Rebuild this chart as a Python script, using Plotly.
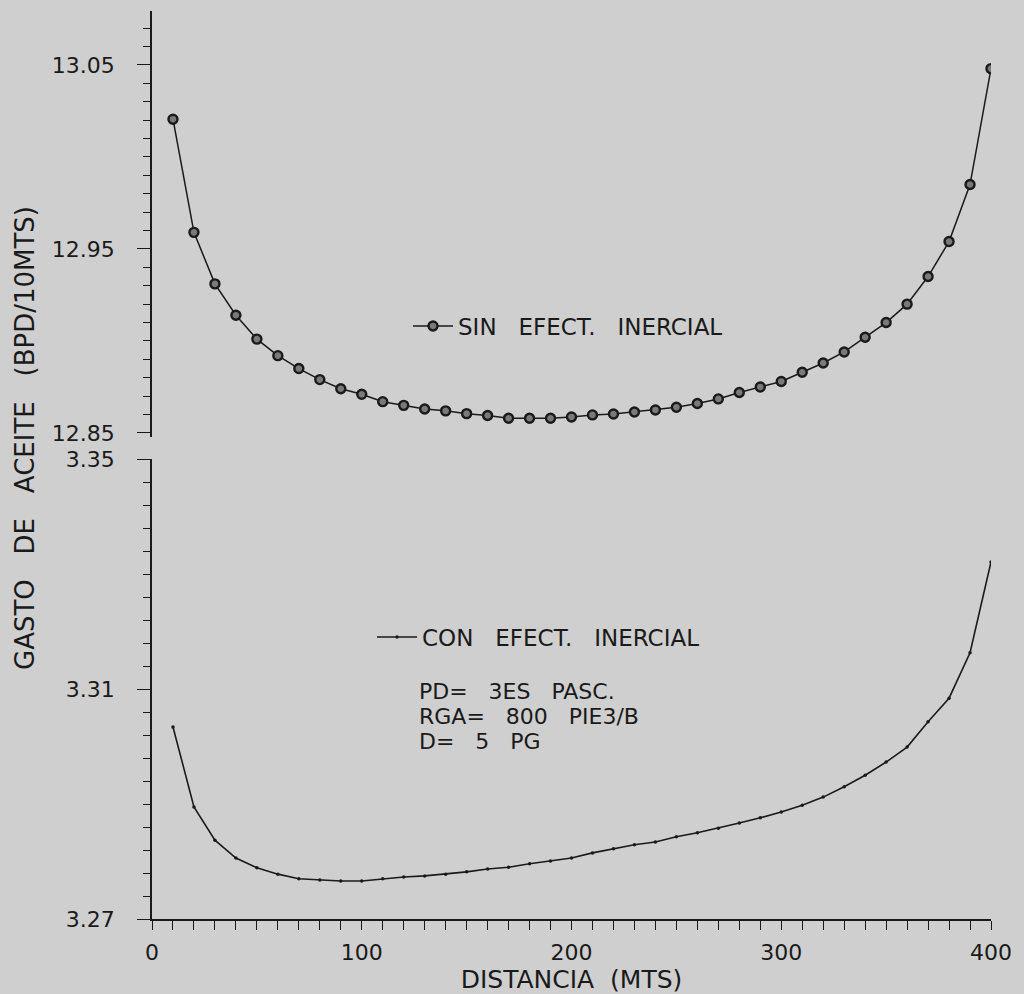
import plotly.graph_objects as go

# ---------------- data ----------------
distancia = [10, 20, 30, 40, 50, 60, 70, 80, 90, 100,
             110, 120, 130, 140, 150, 160, 170, 180, 190, 200,
             210, 220, 230, 240, 250, 260, 270, 280, 290, 300,
             310, 320, 330, 340, 350, 360, 370, 380, 390, 400]

sin_efecto = [13.0205, 12.959, 12.931, 12.914, 12.901, 12.892, 12.885, 12.879, 12.874, 12.871,
              12.867, 12.865, 12.863, 12.862, 12.8605, 12.8595, 12.858, 12.858, 12.858, 12.8587,
              12.8598, 12.8603, 12.8614, 12.8625, 12.864, 12.866, 12.8685, 12.872, 12.875, 12.878,
              12.883, 12.888, 12.894, 12.902, 12.910, 12.920, 12.935, 12.954, 12.985, 13.048]

con_efecto = [3.3034, 3.2895, 3.2837, 3.2806, 3.2789, 3.2778, 3.2770, 3.2768, 3.2766, 3.2766,
              3.2770, 3.2773, 3.2775, 3.2778, 3.2782, 3.2787, 3.2790, 3.2796, 3.2801, 3.2806,
              3.2815, 3.2822, 3.2829, 3.2834, 3.2843, 3.2850, 3.2858, 3.2867, 3.2876, 3.2886,
              3.2898, 3.2912, 3.2930, 3.2950, 3.2973, 3.2999, 3.3043, 3.3084, 3.3163, 3.3321]

x_ticks = [0, 100, 200, 300, 400]
y_upper_ticks = [12.85, 12.95, 13.05]
y_lower_ticks = [3.27, 3.31, 3.35]

sin_label = "SIN   EFECT.   INERCIAL"
con_label = "CON   EFECT.   INERCIAL"
param_lines = ["PD=   3ES   PASC.", "RGA=   800   PIE3/B", "D=   5   PG"]
y_title = "GASTO   DE   ACEITE   (BPD/10MTS)"
x_title = "DISTANCIA  (MTS)"

# ---------------- figure ----------------
FONT = "DejaVu Sans"
INK = "#1a1a1a"
BG = "#cfcfcf"

fig = go.Figure()

fig.add_trace(go.Scatter(
    x=distancia, y=sin_efecto, xaxis="x", yaxis="y",
    mode="lines+markers", name=sin_label, legend="legend",
    line=dict(color=INK, width=1.5),
    marker=dict(symbol="circle", size=9, color="#7a7a7a",
                line=dict(color=INK, width=2.4)),
))

fig.add_trace(go.Scatter(
    x=distancia, y=con_efecto, xaxis="x", yaxis="y2",
    mode="lines+markers", name=con_label, legend="legend2",
    line=dict(color=INK, width=1.6),
    marker=dict(symbol="circle", size=3.5, color=INK),
))

W, H = 1024, 994
L, R, T, B = 152, 33, 11, 75
PW, PH = W - L - R, H - T - B


def px_x(p):
    return (p - L) / PW


def px_y(p):
    return (H - B - p) / PH


axis_common = dict(
    showline=True, linecolor=INK, linewidth=1.6,
    showgrid=False, zeroline=False, automargin=False,
    ticks="outside", tickcolor=INK, tickwidth=1.4,
    tickfont=dict(family=FONT, size=22, color=INK),
)

fig.update_layout(
    width=W, height=H,
    margin=dict(l=L, r=R, t=T, b=B, autoexpand=False),
    paper_bgcolor=BG, plot_bgcolor=BG,
    font=dict(family=FONT, color=INK),
    xaxis=dict(
        **axis_common,
        domain=[0, 1], range=[0, 400], anchor="y2",
        tickmode="array", tickvals=x_ticks,
        ticklen=9,
        minor=dict(tickmode="linear", tick0=0, dtick=10, ticklen=9,
                   tickcolor=INK, tickwidth=1.4, ticks="outside"),
        ticklabelstandoff=4,
        title=dict(text=x_title, font=dict(family=FONT, size=25, color=INK),
                   standoff=4),
    ),
    yaxis=dict(
        **axis_common,
        domain=[px_y(437), 1.0], range=[12.8478, 13.0793], anchor="x",
        tickmode="array", tickvals=y_upper_ticks, tickformat=".2f",
        ticklen=13,
        minor=dict(tickmode="linear", tick0=12.85, dtick=0.01, ticklen=7,
                   tickcolor=INK, tickwidth=1.4, ticks="outside"),
        ticklabelstandoff=18,
    ),
    yaxis2=dict(
        **axis_common,
        domain=[0, px_y(459)], range=[3.27, 3.35], anchor="x",
        tickmode="array", tickvals=y_lower_ticks, tickformat=".2f",
        ticklen=13,
        minor=dict(tickmode="linear", tick0=3.27, dtick=0.004, ticklen=7,
                   tickcolor=INK, tickwidth=1.4, ticks="outside"),
        ticklabelstandoff=18,
    ),
    legend=dict(
        x=px_x(408), y=px_y(326), xanchor="left", yanchor="middle",
        bgcolor="rgba(0,0,0,0)", font=dict(family=FONT, size=23, color=INK),
        itemwidth=40,
    ),
    legend2=dict(
        x=px_x(372), y=px_y(637), xanchor="left", yanchor="middle",
        bgcolor="rgba(0,0,0,0)", font=dict(family=FONT, size=23, color=INK),
        itemwidth=40,
    ),
    showlegend=True,
)

# parameter block
for txt, ypx in zip(param_lines, [691, 716, 741]):
    fig.add_annotation(
        xref="paper", yref="paper", x=px_x(417), y=px_y(ypx),
        xanchor="left", yanchor="middle", showarrow=False,
        text=txt, font=dict(family=FONT, size=22, color=INK),
    )

# y-axis title (single title spanning both panels)
fig.add_annotation(
    xref="paper", yref="paper", x=px_x(25), y=px_y(438),
    xanchor="center", yanchor="middle", showarrow=False, textangle=-90,
    text=y_title, font=dict(family=FONT, size=26, color=INK),
)

fig.write_html("out.html")
